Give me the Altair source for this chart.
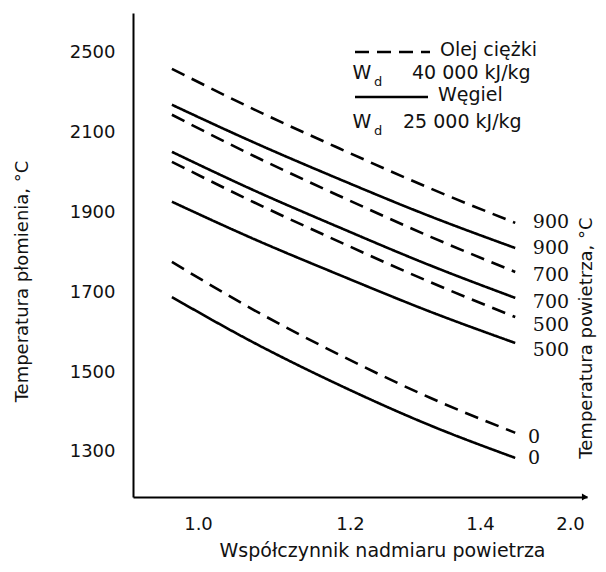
import altair as alt
import pandas as pd

# ---- data ----
alpha = [0.963, 1.08, 1.2, 1.33, 1.45]
oil_900 = [2260, 2158, 2061, 1960, 1874]
coal_900 = [2170, 2075, 1984, 1890, 1811]
oil_700 = [2145, 2041, 1942, 1839, 1751]
coal_700 = [2052, 1955, 1863, 1767, 1686]
oil_500 = [2027, 1925, 1827, 1725, 1638]
coal_500 = [1927, 1833, 1744, 1651, 1573]
oil_0 = [1776, 1655, 1544, 1435, 1348]
coal_0 = [1688, 1573, 1468, 1366, 1285]

series_names = ["oil_900", "coal_900", "oil_700", "coal_700", "oil_500", "coal_500", "oil_0", "coal_0"]
series_vals = [oil_900, coal_900, oil_700, coal_700, oil_500, coal_500, oil_0, coal_0]
series_fuel = ["oil", "coal", "oil", "coal", "oil", "coal", "oil", "coal"]

end_labels = ["900", "900", "700", "700", "500", "500", "0", "0"]
end_label_x = [1.475, 1.475, 1.475, 1.475, 1.475, 1.475, 1.468, 1.468]
end_label_y = [1876, 1811, 1744, 1676, 1618, 1556, 1338, 1285]

y_ticks = [1300, 1500, 1700, 1900, 2100, 2300]
x_ticks = [1.0, 1.2156, 1.4, 1.5277]

rows = []
for name, vals, fuel in zip(series_names, series_vals, series_fuel):
    for a, v in zip(alpha, vals):
        rows.append({"series": name, "fuel": fuel, "alpha": a, "temp": v})
df = pd.DataFrame(rows)
lab_df = pd.DataFrame({"t": end_labels, "alpha": end_label_x, "temp": end_label_y})

FONT = "DejaVu Sans"
xs = alt.Scale(domain=[0.9078, 1.5518], nice=False, zero=False)
ys = alt.Scale(domain=[1187, 2400], nice=False, zero=False)

x_axis = alt.Axis(
    title="Współczynnik nadmiaru powietrza", values=x_ticks,
    labelExpr="datum.value > 1.5 ? '2.0' : format(datum.value, '.1f')",
    ticks=False, tickSize=0, grid=False, domainColor="black", domainWidth=2,
    labelFont=FONT, labelFontSize=18, labelColor="#111", labelPadding=18,
    titleFont=FONT, titleFontSize=19, titleFontWeight="normal", titleColor="#111",
    titleX=249, titleY=53, titleAlign="center", titleBaseline="middle",
)
y_axis = alt.Axis(
    title="Temperatura płomienia, °C", values=y_ticks, format="d",
    labelExpr="datum.value == 2300 ? '2500' : datum.label",
    ticks=False, tickSize=0, grid=False, domainColor="black", domainWidth=2,
    labelFont=FONT, labelFontSize=18, labelColor="#111", labelPadding=18,
    titleFont=FONT, titleFontSize=18, titleFontWeight="normal", titleColor="#111",
    titleX=-111, titleY=268, titleAngle=270, titleAlign="center", titleBaseline="middle",
)

lines = alt.Chart(df).mark_line(color="black", strokeWidth=2.6, interpolate="monotone").encode(
    x=alt.X("alpha:Q", scale=xs, axis=x_axis),
    y=alt.Y("temp:Q", scale=ys, axis=y_axis),
    strokeDash=alt.StrokeDash("fuel:N", scale=alt.Scale(domain=["oil", "coal"], range=[[14, 8], [1, 0]]), legend=None),
    detail="series:N",
)

end_text = alt.Chart(lab_df).mark_text(
    font="DejaVu Serif", fontSize=19, align="left", baseline="middle", color="#111"
).encode(x=alt.X("alpha:Q", scale=xs), y=alt.Y("temp:Q", scale=ys), text="t:N")

arrow = alt.Chart(pd.DataFrame({"a": [0]})).mark_point(
    shape="triangle-right", filled=True, size=50, color="black", opacity=1
).encode(x=alt.value(452), y=alt.value(484))

# legend (annotations in pixel space)
leg_dash = alt.Chart(pd.DataFrame({"a": [0]})).mark_rule(color="black", strokeWidth=2.6, strokeDash=[14, 8]).encode(
    x=alt.value(222), x2=alt.value(297), y=alt.value(39))
leg_solid = alt.Chart(pd.DataFrame({"a": [0]})).mark_rule(color="black", strokeWidth=2.6).encode(
    x=alt.value(222), x2=alt.value(295), y=alt.value(84))

def txt(s, x, y, size=19, align="left", angle=0, font=FONT):
    kw = dict(font=font, fontSize=size, align=align, baseline="middle", color="#111", text=s)
    if angle:
        kw["angle"] = angle
    return alt.Chart(pd.DataFrame({"a": [0]})).mark_text(**kw).encode(x=alt.value(x), y=alt.value(y))

legend_texts = [
    txt("Olej ciężki", 307, 37),
    txt("W", 229, 60, align="center"),
    txt("d", 245, 69, size=13, align="center"),
    txt("40 000 kJ/kg", 279, 60),
    txt("Węgiel", 305, 82),
    txt("W", 229, 109, align="center"),
    txt("d", 245, 118, size=13, align="center"),
    txt("25 000 kJ/kg", 270, 109),
    txt("Temperatura powietrza, °C", 454, 325, size=18, align="center", angle=270),
]

chart = alt.layer(lines, end_text, arrow, leg_dash, leg_solid, *legend_texts).properties(
    width=454, height=484,
    padding={"left": 125, "top": 5, "right": 11, "bottom": 67},
    autosize=alt.AutoSizeParams(type="none"),
    background="white",
).configure_view(stroke=None)

chart.save("out.html", embed_options={"renderer": "svg", "actions": False})
